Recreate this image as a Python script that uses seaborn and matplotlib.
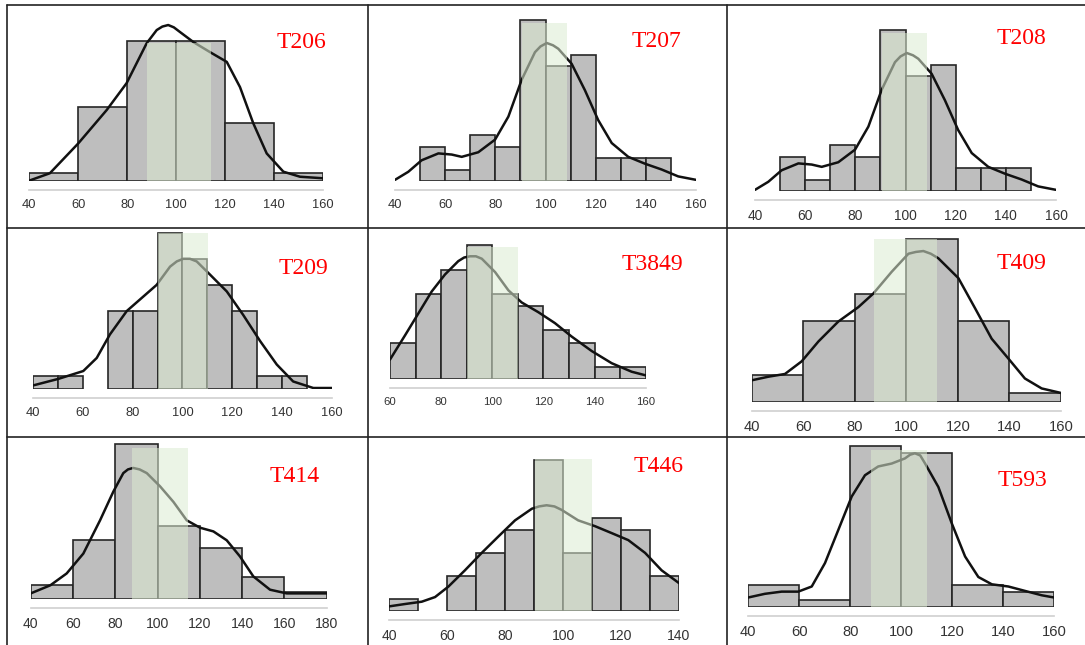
import numpy as np
import pandas as pd
import seaborn as sns
import matplotlib.pyplot as plt
from matplotlib.lines import Line2D

sns.set_style("white")
plt.rcParams["font.family"] = ["Liberation Sans", "DejaVu Sans"]

W, H = 1085, 645

# --- data (counts per bin, density curve in count units) ---
t206_edges = [40, 60, 80, 100, 120, 140, 160]
t206_counts = [2, 19, 36, 36, 15, 2]
t206_kde_x = [40, 48.4, 60, 71.6, 79.7, 87.9, 92, 94.3, 96.7, 99, 101.5, 107, 113.8, 120.6, 126, 131.4, 136.9, 143.7, 150.5, 160]
t206_kde_y = [0.1, 2.0, 9.7, 18.3, 25.2, 35.5, 38.9, 39.8, 40.2, 39.6, 38.4, 35.8, 33.2, 30.7, 24.2, 14.9, 7.1, 2.4, 1.1, 0.7]
t206_band = [88, 114, 35.5]

t207_edges = [50, 60, 70, 80, 90, 100, 110, 120, 130, 140, 150]
t207_counts = [3, 1, 4, 3, 14, 10, 11, 2, 2, 2]
t207_kde_x = [40, 45.3, 50.6, 57.3, 62.6, 66.6, 73.2, 79.9, 85.2, 90.5, 95.8, 98, 100.5, 103, 105.1, 110.4, 115.7, 121, 126.4, 133, 139.7, 146.3, 152.9, 160]
t207_kde_y = [0.1, 0.8, 1.8, 2.4, 2.3, 2.1, 2.5, 3.6, 5.6, 8.8, 11.2, 11.7, 12.0, 11.8, 11.5, 10.2, 7.9, 5.3, 3.3, 2.1, 1.5, 1.0, 0.4, 0.1]
t207_band = [90.5, 108.5, 13.7]

t208_edges = [50, 60, 70, 80, 90, 100, 110, 120, 130, 140, 150]
t208_counts = [3, 1, 4, 3, 14, 10, 11, 2, 2, 2]
t208_kde_x = [40, 45.3, 50.6, 57.3, 62.6, 66.6, 73.2, 79.9, 85.2, 90.5, 95.8, 98, 100.5, 103, 105.1, 110.4, 115.7, 121, 126.4, 133, 139.7, 146.3, 152.9, 160]
t208_kde_y = [0.1, 0.8, 1.8, 2.4, 2.3, 2.1, 2.5, 3.6, 5.6, 8.8, 11.2, 11.7, 12.0, 11.8, 11.5, 10.2, 7.9, 5.3, 3.3, 2.1, 1.5, 1.0, 0.4, 0.1]
t208_band = [90.5, 108.5, 13.7]

t209_edges = [40, 50, 60, 70, 80, 90, 100, 110, 120, 130, 140, 150]
t209_counts = [1, 1, 0, 6, 6, 12, 10, 8, 6, 1, 1]
t209_kde_x = [40, 50.1, 60.1, 65.5, 70.8, 77.6, 84.2, 89.6, 95, 97.7, 100.3, 103, 105.7, 111, 117.8, 124.4, 131.2, 137.9, 144.5, 152.6, 160]
t209_kde_y = [0.3, 0.8, 1.4, 2.4, 4.2, 6.0, 7.1, 8.0, 9.4, 9.8, 10.0, 10.0, 9.8, 8.8, 7.5, 5.7, 3.7, 1.9, 0.6, 0.1, 0.1]
t209_band = [90.3, 110.4, 12.0]

t3849_edges = [60, 70, 80, 90, 100, 110, 120, 130, 140, 150, 160]
t3849_counts = [3, 7, 9, 11, 7, 6, 4, 3, 1, 1]
t3849_kde_x = [60, 65.9, 71.1, 76.3, 81.5, 86.7, 89, 91.3, 93.6, 95.9, 101.1, 106.3, 111.5, 118, 124.5, 131, 138.9, 146.7, 154.5, 160]
t3849_kde_y = [1.6, 3.6, 5.4, 7.2, 8.6, 9.7, 10.0, 10.1, 10.1, 9.9, 8.8, 7.3, 6.3, 5.5, 4.6, 3.5, 2.3, 1.3, 0.6, 0.3]
t3849_band = [90, 110, 10.9]

t409_edges = [40, 60, 80, 100, 120, 140, 160]
t409_counts = [3, 9, 12, 18, 9, 1]
t409_kde_x = [40, 46.5, 52.9, 59.4, 65.9, 73.6, 81.4, 87.2, 94.3, 100.8, 103.7, 106.6, 109.5, 112.4, 120.2, 126.6, 133.1, 139.6, 146, 152.5, 160]
t409_kde_y = [2.4, 2.8, 3.1, 4.5, 6.7, 8.9, 10.5, 12.0, 14.4, 16.4, 16.6, 16.7, 16.4, 15.9, 13.7, 10.4, 7.0, 4.8, 2.6, 1.5, 1.0]
t409_band = [87.4, 111.9, 18.0]

t414_edges = [40, 60, 80, 100, 120, 140, 160, 180]
t414_counts = [2, 8, 21, 10, 7, 3, 1]
t414_kde_x = [40, 49.3, 57, 64.9, 72.8, 79.1, 83.8, 86, 88.5, 91.5, 94.9, 101.2, 107.5, 113.8, 120.1, 126.4, 132.7, 139, 145.3, 153.2, 161.1, 170.6, 180]
t414_kde_y = [0.8, 1.9, 3.5, 6.2, 10.7, 14.6, 17.1, 17.6, 17.8, 17.6, 17.1, 15.3, 13.2, 10.7, 9.7, 9.2, 8.0, 5.8, 3.1, 1.3, 0.8, 0.8, 0.8]
t414_band = [87.8, 114.3, 20.5]

t446_edges = [40, 50, 60, 70, 80, 90, 100, 110, 120, 130, 140]
t446_counts = [1, 0, 3, 5, 7, 13, 5, 8, 7, 3]
t446_kde_x = [40, 45.4, 51.2, 55.8, 60.4, 66.1, 71.9, 77.6, 83.4, 89.2, 91.7, 94.3, 97, 99.5, 105.2, 111, 116.8, 122.5, 128.3, 134, 140]
t446_kde_y = [0.4, 0.6, 0.8, 1.2, 2.1, 3.5, 5.0, 6.4, 7.8, 8.8, 9.0, 9.1, 9.0, 8.7, 7.8, 7.3, 6.7, 6.1, 5.0, 3.5, 2.4]
t446_band = [90.3, 109.9, 13.05]

t593_edges = [40, 60, 80, 100, 120, 140, 160]
t593_counts = [3, 1, 22, 21, 3, 2]
t593_kde_x = [40, 46.5, 53.1, 59.6, 64.9, 70.1, 75.3, 80.6, 85.8, 91, 96.3, 101.5, 103.5, 105.4, 107.5, 109.4, 114.6, 119.9, 125.1, 130.3, 135.6, 142.1, 148.6, 155.2, 160]
t593_kde_y = [1.3, 1.8, 2.1, 2.1, 2.8, 6.0, 10.5, 15.1, 18.0, 19.2, 19.6, 20.3, 20.8, 21.0, 20.7, 19.6, 16.4, 11.4, 6.9, 4.1, 3.1, 2.8, 2.2, 1.6, 1.3]
t593_band = [88, 110.3, 21.5]

# layout in pixels: x-range, pixel of xmin / xmax, baseline y, px per count,
# tick label size, title centre
panels = [
    ("T206", t206_edges, t206_counts, t206_kde_x, t206_kde_y, t206_band,
     (40, 160), 29.3, 323.3, 181, 3.88, 9.3, (301.7, 42.7)),
    ("T207", t207_edges, t207_counts, t207_kde_x, t207_kde_y, t207_band,
     (40, 160), 395, 696, 181, 11.5, 9.3, (656.7, 41.7)),
    ("T208", t208_edges, t208_counts, t208_kde_x, t208_kde_y, t208_band,
     (40, 160), 755, 1056, 191, 11.5, 9.9, (1021.7, 38.3)),
    ("T209", t209_edges, t209_counts, t209_kde_x, t209_kde_y, t209_band,
     (40, 160), 33.3, 331.7, 389.3, 13.05, 9.3, (303.3, 268.3)),
    ("T3849", t3849_edges, t3849_counts, t3849_kde_x, t3849_kde_y, t3849_band,
     (60, 160), 390, 645.7, 379, 12.15, 8.2, (652.3, 264.3)),
    ("T409", t409_edges, t409_counts, t409_kde_x, t409_kde_y, t409_band,
     (40, 160), 751.7, 1061, 402, 9.04, 10.6, (1021.7, 263.3)),
    ("T414", t414_edges, t414_counts, t414_kde_x, t414_kde_y, t414_band,
     (40, 180), 30.7, 326.7, 599.3, 7.38, 10.1, (295, 476.7)),
    ("T446", t446_edges, t446_counts, t446_kde_x, t446_kde_y, t446_band,
     (40, 140), 389.3, 679, 611, 11.62, 10.1, (658.3, 466.7)),
    ("T593", t593_edges, t593_counts, t593_kde_x, t593_kde_y, t593_band,
     (40, 160), 748.3, 1054, 607, 7.32, 10.6, (1022.7, 480)),
]

fig = plt.figure(figsize=(W / 100, H / 100), dpi=100)
AX_H = 175  # px above the baseline

for (name, edges, counts, kx, ky, band, xr, px0, px1, base, unit, lsize, tpos) in panels:
    ax = fig.add_axes([px0 / W, 1 - base / H, (px1 - px0) / W, AX_H / H])
    ax.patch.set_alpha(0)
    mids = [(a + b) / 2 for a, b in zip(edges[:-1], edges[1:])]
    df = pd.DataFrame({"value": mids, "n": counts})
    sns.histplot(data=df, x="value", weights="n", bins=list(edges), ax=ax,
                 color="#bebebe", alpha=1, edgecolor="#262626", linewidth=1.2)
    for p in ax.patches:
        if p.get_height() == 0:
            p.set_visible(False)
    sns.lineplot(x=kx, y=ky, ax=ax, color="#111111", linewidth=1.8)
    lo, hi, top = band
    ax.bar(lo, top, width=hi - lo, align="edge", color="#dcebd2", alpha=0.55,
           linewidth=0, zorder=5)

    ax.set_xlim(*xr)
    ax.set_ylim(0, AX_H / unit)
    ax.set_xticks(np.arange(xr[0], xr[1] + 1, 20))
    ax.set_yticks([])
    ax.set_xlabel("")
    ax.set_ylabel("")
    for s in ["left", "right", "top"]:
        ax.spines[s].set_visible(False)
    ax.spines["bottom"].set_position(("outward", 6.5))
    ax.spines["bottom"].set_color("#cfcfcf")
    ax.spines["bottom"].set_linewidth(1.2)
    ax.tick_params(axis="x", length=4, width=1, color="#444444", pad=2.2,
                   labelsize=lsize, labelcolor="#333333")

    fig.text(tpos[0] / W, 1 - tpos[1] / H, name, ha="center", va="center",
             color="#ff0000", fontsize=17, family="Liberation Serif")


# cell borders
def vline(x, y0, y1):
    fig.add_artist(Line2D([x / W, x / W], [1 - y0 / H, 1 - y1 / H],
                          transform=fig.transFigure, color="#222222", lw=1.2))


def hline(y, x0, x1):
    fig.add_artist(Line2D([x0 / W, x1 / W], [1 - y / H, 1 - y / H],
                          transform=fig.transFigure, color="#222222", lw=1.2))


for xv in [7.3, 368, 727]:
    vline(xv, 5, H)
for yv in [5, 227.7, 436.5]:
    hline(yv, 7.3, W)

fig.savefig("out.png", dpi=100)
